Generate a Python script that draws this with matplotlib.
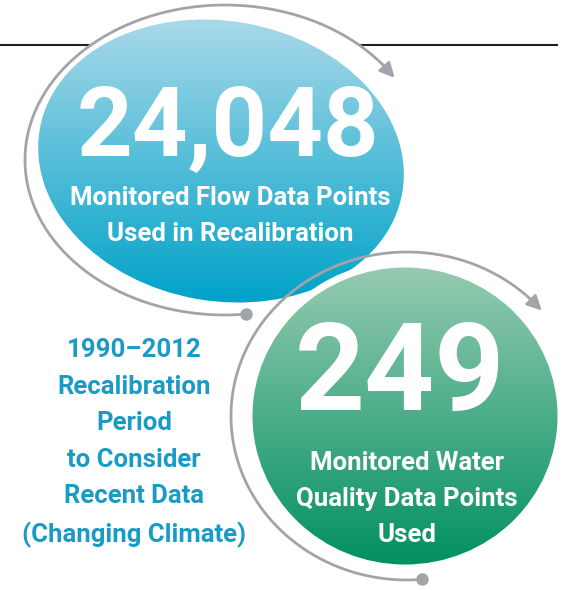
import numpy as np
import matplotlib.pyplot as plt
from matplotlib.patches import Ellipse
from matplotlib.colors import to_rgb

# 数据
values = ['24,048', '249']
captions = ['Monitored Flow Data Points\nUsed in Recalibration',
            'Monitored Water\nQuality Data Points\nUsed']
side_note = ['1990\u20132012', 'Recalibration', 'Period', 'to Consider',
             'Recent Data', '(Changing Climate)']

# 颜色
blue_top, blue_bot = '#a9d9e9', '#00a2c8'
green_top, green_bot = '#97cbb1', '#009060'
grey = '#a1a4a9'
note_color = '#1a9bc6'

fig = plt.figure(figsize=(5.71, 5.91), dpi=100)
ax = fig.add_axes([0, 0, 1, 1])
ax.set_xlim(0, 571)
ax.set_ylim(591, 0)
ax.axis('off')

narrow = ['Roboto', 'DejaVu Sans']

# 顶部横线
ax.plot([0, 557], [45, 45], color='#231f20', lw=1.5, zorder=1)


def grad_ellipse(cx, cy, a, b, c_top, c_bot, z, ang=0, edge=None, elw=0):
    n = 256
    t = np.linspace(0, 1, n)[:, None]
    grad = (1 - t) * np.array(to_rgb(c_top)) + t * np.array(to_rgb(c_bot))
    grad = grad[:, None, :]
    r = max(a, b)
    hy = np.sqrt((a * np.sin(np.radians(ang))) ** 2 +
                 (b * np.cos(np.radians(ang))) ** 2)
    im = ax.imshow(grad, extent=(cx - r, cx + r, cy + hy, cy - hy),
                   aspect='auto', zorder=z, interpolation='bilinear')
    e = Ellipse((cx, cy), 2 * a, 2 * b, angle=ang, facecolor='none',
                edgecolor='none')
    ax.add_patch(e)
    im.set_clip_path(e)
    if edge:
        ax.add_patch(Ellipse((cx, cy), 2 * a, 2 * b, angle=ang,
                             facecolor='none', edgecolor=edge, lw=elw,
                             zorder=z + 0.1))


def arc_arrow(cx, cy, a, b, t0, t1, z):
    t = np.radians(np.linspace(t0, t1, 300))
    x = cx + a * np.cos(t)
    y = cy + b * np.sin(t)
    ax.plot(x, y, color=grey, lw=2, zorder=z, solid_capstyle='butt')
    ax.plot(x[0], y[0], 'o', ms=8, color=grey, zorder=z)
    te = np.radians(t1 + 6)
    ax.annotate('', xy=(cx + a * np.cos(te), cy + b * np.sin(te)),
                xytext=(x[-1], y[-1]),
                arrowprops=dict(arrowstyle='-|>', color=grey, lw=2,
                                mutation_scale=22, shrinkA=0, shrinkB=0),
                zorder=z)


# 蓝色椭圆
ax.add_patch(Ellipse((225, 160), 400, 312, facecolor='white',
                     edgecolor='none', zorder=2))
arc_arrow(225, 160, 200, 155, 84, 322, 3)
grad_ellipse(221, 161, 184, 140, blue_top, blue_bot, 4, ang=10)

# 绿色椭圆
arc_arrow(407, 416, 176, 164, 85, 314, 6)
grad_ellipse(405, 416, 156, 152, green_top, green_bot, 7,
             edge='white', elw=5)

# 文字
ax.text(228, 155, values[0], color='white', fontsize=70,
        family='Roboto', weight='bold', ha='center', va='baseline', zorder=10)
ax.text(230, 216, captions[0], color='white', fontsize=18.5,
        family=narrow, weight='bold', ha='center', va='center',
        linespacing=1.65, zorder=10)

ax.text(400, 410, values[1], color='white', fontsize=88,
        family='Roboto', weight='bold', ha='center', va='baseline', zorder=10)
ax.text(407, 499, captions[1], color='white', fontsize=18.5,
        family=narrow, weight='bold', ha='center', va='center',
        linespacing=1.65, zorder=10)

ax.text(134, 443, '\n'.join(side_note), color=note_color, fontsize=18.5,
        family=narrow, weight='bold', ha='center', va='center',
        linespacing=1.65, zorder=10)

plt.savefig('out.png', dpi=100, facecolor='white')
